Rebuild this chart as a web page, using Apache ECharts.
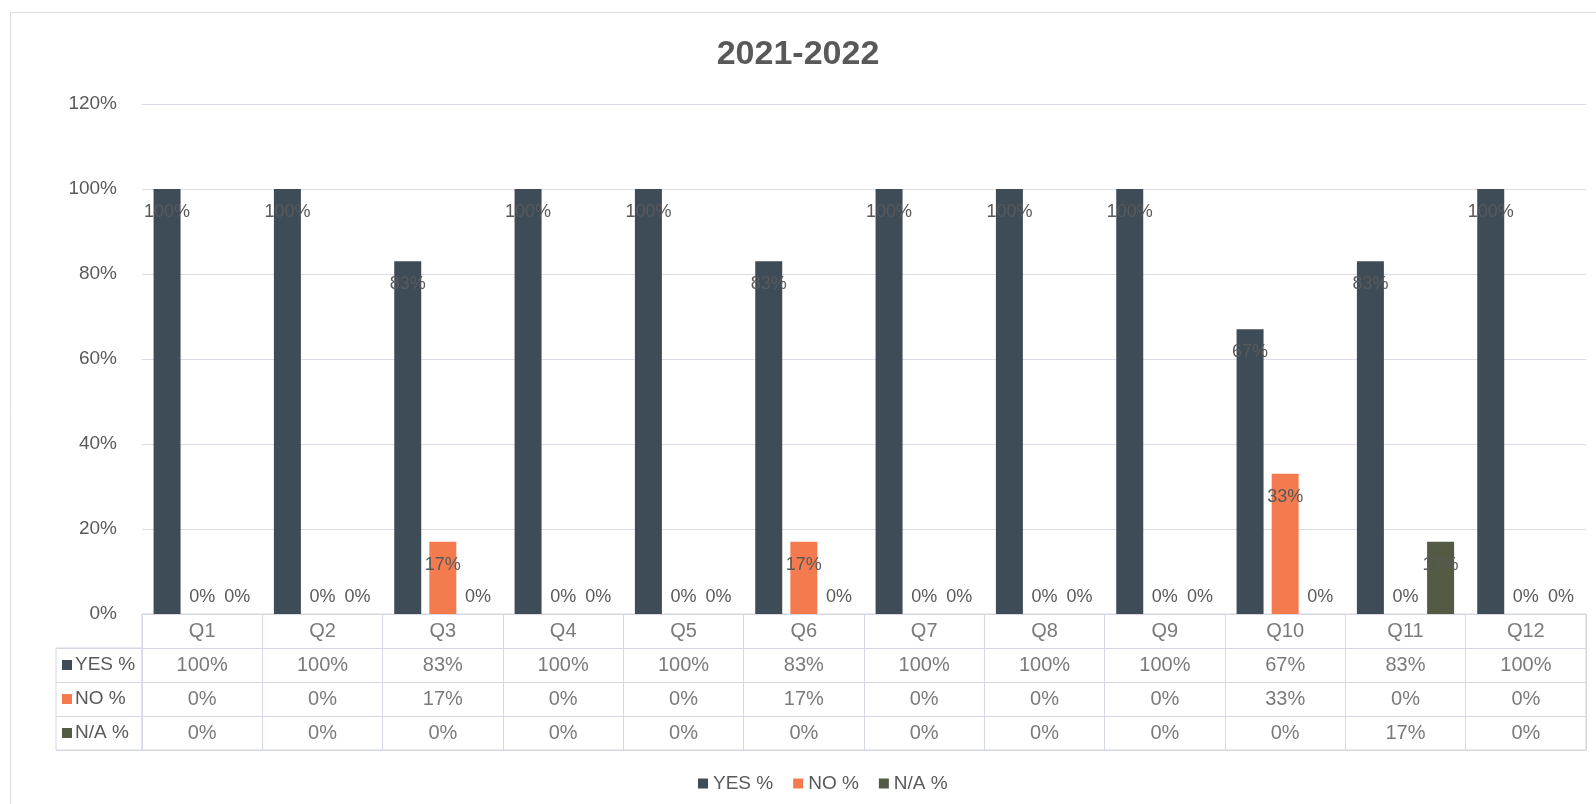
<!DOCTYPE html>
<html>
<head>
<meta charset="utf-8">
<title>2021-2022</title>
<script src="https://cdn.jsdelivr.net/npm/echarts@6/dist/echarts.min.js"></script>
<style>
    html, body {margin: 0; padding: 0; background: #fff;}
    #chart {width: 1596px; height: 804px;}
</style>
</head>
<body>
<div id="chart"></div>
<script>
// data
const categories = ['Q1', 'Q2', 'Q3', 'Q4', 'Q5', 'Q6', 'Q7', 'Q8', 'Q9', 'Q10', 'Q11', 'Q12'];
const seriesNames = ['YES %', 'NO %', 'N/A %'];
const yesPct = [100, 100, 83, 100, 100, 83, 100, 100, 100, 67, 83, 100];
const noPct = [0, 0, 17, 0, 0, 17, 0, 0, 0, 33, 0, 0];
const naPct = [0, 0, 0, 0, 0, 0, 0, 0, 0, 0, 17, 0];
const yMax = 120;
const yStep = 20;

const colors = ['#3e4c58', '#f47b4f', '#535b45'];
const textColor = '#595959';
const lineColor = '#d5d7e4';
const font = "'Liberation Sans', Arial, sans-serif";

let chart = echarts.init(document.getElementById('chart'));

// labels sit inside the bar top, zero values go above the axis
function barData(values) {
    return values.map(function (v) {
        if (v === 0) {
            return {value: v, label: {position: 'top', distance: 8}};
        }
        return {value: v};
    });
}

function barSeries(idx, values) {
    return {
        name: seriesNames[idx],
        type: 'bar',
        xAxisIndex: 0,
        yAxisIndex: 0,
        barWidth: 27,
        barGap: '30%',
        itemStyle: {color: colors[idx]},
        label: {
            show: true,
            position: 'insideTop',
            distance: 14,
            color: textColor,
            fontSize: 18,
            fontFamily: font,
            formatter: '{c}%'
        },
        data: barData(values)
    };
}

// data table cells: header row of categories then one row per series
let rows = [yesPct, noPct, naPct];
let cells = [];
categories.forEach(function (c, i) {
    cells.push({name: c, value: [i, 0]});
    rows.forEach(function (r, j) {
        cells.push({name: r[i] + '%', value: [i, j + 1]});
    });
});

let rich = {};
colors.forEach(function (c, i) {
    rich['m' + i] = {width: 10, height: 10, backgroundColor: c};
});
rich.t = {fontSize: 19, color: textColor, fontFamily: font, padding: [0, 0, 0, 3]};

let option = {
    backgroundColor: '#ffffff',
    textStyle: {fontFamily: font},
    title: {
        text: '2021-2022',
        left: 'center',
        top: 33,
        textStyle: {fontSize: 34, fontWeight: 'bold', color: textColor, fontFamily: font}
    },
    legend: {
        data: seriesNames,
        left: 693,
        top: 769,
        icon: 'rect',
        itemWidth: 10,
        itemHeight: 10,
        itemGap: 20,
        textStyle: {fontSize: 19, color: textColor, fontFamily: font}
    },
    graphic: [{
        type: 'rect',
        silent: true,
        shape: {x: 10.5, y: 12.5, width: 1620, height: 820},
        style: {fill: 'none', stroke: '#dcdde3', lineWidth: 1}
    }],
    grid: [
        {left: 142, right: 10, top: 104, height: 510},
        {left: 142, right: 10, top: 614, height: 136, show: true, borderColor: lineColor, borderWidth: 1},
        {left: 56, width: 86, top: 648, height: 102, show: true, borderColor: lineColor, borderWidth: 1}
    ],
    xAxis: [
        {
            gridIndex: 0, type: 'category', data: categories,
            axisLabel: {show: false}, axisTick: {show: false},
            axisLine: {lineStyle: {color: lineColor}}
        },
        {
            gridIndex: 1, type: 'category', data: categories,
            axisLabel: {show: false, interval: 0}, axisTick: {show: false}, axisLine: {show: false},
            splitLine: {show: true, interval: 0, lineStyle: {color: lineColor}}
        },
        {gridIndex: 2, type: 'value', show: false}
    ],
    yAxis: [
        {
            gridIndex: 0, type: 'value', min: 0, max: yMax, interval: yStep,
            axisLabel: {formatter: '{value}%', fontSize: 19, color: textColor, margin: 25, fontFamily: font},
            axisLine: {show: false}, axisTick: {show: false},
            splitLine: {lineStyle: {color: '#dadbe7'}}
        },
        {
            gridIndex: 1, type: 'category', inverse: true, data: [''].concat(seriesNames),
            axisLabel: {show: false, interval: 0}, axisTick: {show: false}, axisLine: {show: false},
            splitLine: {show: true, interval: 0, lineStyle: {color: lineColor}}
        },
        {
            gridIndex: 2, type: 'category', inverse: true, data: seriesNames,
            axisTick: {show: false}, axisLine: {show: false},
            splitLine: {show: true, interval: 0, lineStyle: {color: lineColor}},
            axisLabel: {
                inside: true, margin: 6, interval: 0,
                formatter: function (v, i) {
                    return '{m' + i + '|}{t|' + v + '}';
                },
                rich: rich
            }
        }
    ],
    series: [
        barSeries(0, yesPct),
        barSeries(1, noPct),
        barSeries(2, naPct),
        {
            name: 'table',
            type: 'scatter',
            xAxisIndex: 1,
            yAxisIndex: 1,
            silent: true,
            symbolSize: 2,
            itemStyle: {color: 'rgba(0,0,0,0)'},
            label: {
                show: true,
                position: 'inside',
                formatter: '{b}',
                fontSize: 20,
                color: textColor,
                fontFamily: font
            },
            data: cells
        }
    ]
};

chart.setOption(option);
</script>
</body>
</html>
